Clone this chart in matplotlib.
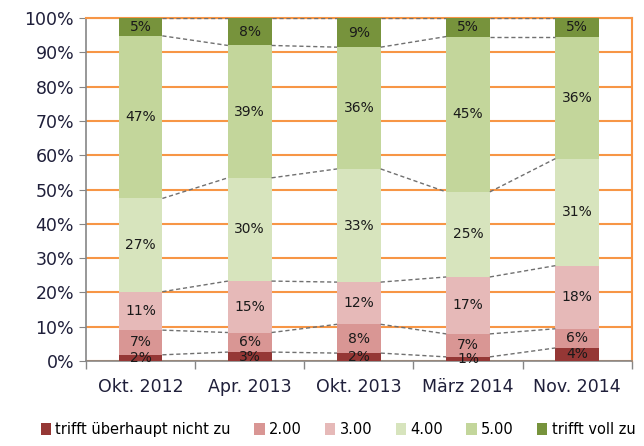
import numpy as np
import matplotlib
matplotlib.use("Agg")
import matplotlib.pyplot as plt

# survey waves
categories = ["Okt. 2012", "Apr. 2013", "Okt. 2013", "März 2014", "Nov. 2014"]
series_names = ["trifft überhaupt nicht zu", "2.00", "3.00", "4.00", "5.00",
                "trifft voll zu"]

# shares in percent, one list per answer category
s_1 = [1.8, 2.6, 2.3, 1.2, 3.8]
s_2 = [7.2, 5.7, 8.4, 6.7, 5.6]
s_3 = [11.2, 15.0, 12.3, 16.6, 18.4]
s_4 = [27.2, 30.1, 33.0, 24.8, 31.2]
s_5 = [47.4, 38.6, 35.5, 45.3, 35.6]
s_6 = [5.2, 8.0, 8.5, 5.4, 5.4]

colors = ["#953735", "#d99694", "#e6b9b8", "#d7e4bd", "#c3d69b", "#77933c"]
ORANGE = "#f79646"
GREY = "#868686"

data = np.array([s_1, s_2, s_3, s_4, s_5, s_6])
tops = np.cumsum(data, axis=0)
x = np.arange(len(categories))
w = 0.4

plt.rcParams["font.family"] = ["DejaVu Sans"]
fig = plt.figure(figsize=(6.44, 4.46), dpi=100)
ax = fig.add_axes([0.1335, 0.1906, 0.981 - 0.1335, 0.9596 - 0.1906])

bottom = np.zeros(len(categories))
for k, (vals, col, name) in enumerate(zip(data, colors, series_names)):
    ax.bar(x, vals, w, bottom=bottom, color=col, label=name, zorder=3)
    for xi, v, b in zip(x, vals, bottom):
        ax.text(xi, b + v / 2, f"{int(v + 0.5)}%", ha="center", va="center",
                fontsize=10, color="#1a1a1a", zorder=5)
    bottom = bottom + vals

# series lines between neighbouring bars
for k in range(tops.shape[0]):
    for i in range(len(categories) - 1):
        ax.plot([x[i] + w / 2, x[i + 1] - w / 2], [tops[k, i], tops[k, i + 1]],
                ls=(0, (3, 2)), color="#707070", lw=1, zorder=4)

ax.set_xlim(-0.5, len(categories) - 0.5)
ax.set_ylim(0, 100)
ax.set_yticks(np.arange(0, 101, 10))
ax.set_yticklabels([f"{t}%" for t in range(0, 101, 10)])
ax.yaxis.grid(True, color=ORANGE, lw=1.5, zorder=0)
ax.set_axisbelow(True)

ax.set_xticks(x)
ax.set_xticklabels(categories)
ax.set_xticks(np.arange(-0.5, len(categories)), minor=True)
ax.tick_params(axis="x", which="major", length=0, pad=12, labelsize=12.5,
               colors="#1f1f3a")
ax.tick_params(axis="x", which="minor", length=6, color=GREY, width=1)
ax.tick_params(axis="y", length=5, color=GREY, labelsize=12.5,
               labelcolor="#1f1f3a")

for side in ("left", "bottom"):
    ax.spines[side].set_color(GREY)
    ax.spines[side].set_linewidth(1.2)
for side in ("right", "top"):
    ax.spines[side].set_color(ORANGE)
    ax.spines[side].set_linewidth(1.5)

handles, labels = ax.get_legend_handles_labels()
fig.legend(handles, labels, loc="lower center", bbox_to_anchor=(0.525, -0.01),
           ncol=6, frameon=False, fontsize=10.5, handlelength=0.7,
           handleheight=0.9, handletextpad=0.3, columnspacing=1.6)

fig.savefig("out.png", dpi=100)
